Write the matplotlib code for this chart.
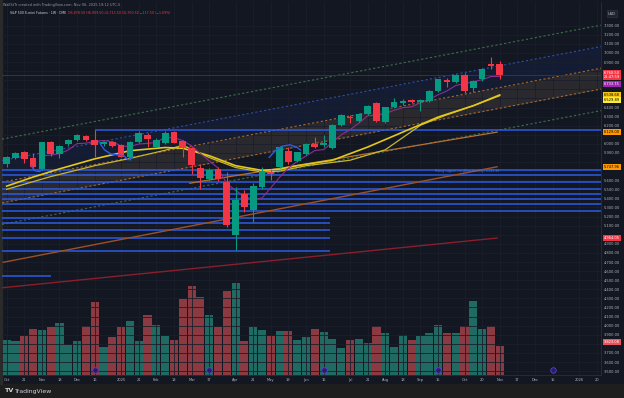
import numpy as np
import pandas as pd
import matplotlib
matplotlib.use('Agg')
import matplotlib.pyplot as plt
import matplotlib.transforms as mtransforms
from matplotlib.patches import Rectangle

# S&P 500 E-mini futures, weekly bars, first bar = week of 2024-10-07
week0 = pd.Timestamp('2024-10-07')
opens = [5784, 5846, 5906, 5846, 5725, 6019, 5887, 5994, 6041, 6088,
         6041, 5994, 6019, 5986, 5857, 6016, 6096, 5967, 6005, 6126,
         6030, 5956, 5740, 5612, 5729, 5582, 4995, 5443, 5270, 5527,
         5692, 5747, 5923, 5810, 5887, 5997, 5983, 5950, 6210, 6298,
         6254, 6327, 6445, 6243, 6401, 6452, 6482, 6460, 6471, 6577,
         6702, 6683, 6760, 6617, 6710, 6875, 6878.5]
highs = [5865, 5914, 5920, 5901, 6022, 6033, 5983, 6052, 6104, 6096,
         6151, 6033, 6030, 5994, 6030, 6144, 6115, 6060, 6144, 6137,
         6041, 5967, 5777, 5740, 5747, 5692, 5527, 5490, 5567, 5747,
         5729, 5975, 5961, 5912, 6005, 6071, 6096, 6217, 6327, 6320,
         6342, 6423, 6463, 6408, 6507, 6489, 6496, 6496, 6592, 6716,
         6721, 6768, 6776, 6702, 6831, 6952, 6909.5]
lows = [5741, 5832, 5791, 5718, 5718, 5868, 5840, 5975, 6033, 6033,
        5857, 5975, 5967, 5851, 5821, 6005, 5967, 5961, 5997, 6005,
        5857, 5674, 5498, 5593, 5593, 5086, 4830, 5251, 5141, 5509,
        5600, 5740, 5784, 5799, 5876, 5950, 5961, 5939, 6199, 6225,
        6239, 6316, 6239, 6232, 6390, 6427, 6445, 6360, 6460, 6570,
        6628, 6666, 6555, 6573, 6694, 6820, 6713.5]
closes = [5851, 5901, 5835, 5744, 6019, 5884, 5975, 6044, 6093, 6041,
          5989, 6019, 5978, 5857, 6016, 6121, 6055, 6041, 6121, 6008,
          5956, 5766, 5626, 5711, 5612, 5105, 5380, 5300, 5538, 5700,
          5667, 5961, 5802, 5906, 5997, 5967, 6011, 6210, 6313, 6283,
          6327, 6412, 6247, 6401, 6463, 6471, 6456, 6482, 6581, 6710,
          6683, 6754, 6581, 6691, 6820, 6859, 6760.5]
volume_m = [6.0, 5.7, 6.6, 7.8, 7.7, 8.2, 8.8, 5.1, 5.7, 8.3,
            12.4, 4.7, 6.4, 8.1, 9.2, 5.7, 10.2, 8.5, 6.6, 6.0,
            12.9, 15.2, 13.3, 10.2, 8.2, 14.2, 15.6, 5.7, 8.2, 7.7,
            6.6, 7.4, 7.5, 5.9, 6.5, 7.8, 7.3, 6.2, 4.6, 6.0,
            6.2, 5.4, 8.3, 7.1, 4.8, 6.8, 5.9, 6.6, 7.2, 8.5,
            7.2, 7.1, 8.3, 12.6, 7.8, 8.3, 5.0]

# moving averages (week index, price)
ma1_idx = [0, 3, 6, 10, 14, 18, 20, 23, 26, 29, 31, 33, 37, 41, 45, 49, 53, 56]
ma1_val = [5535, 5635, 5725, 5835, 5925, 5960, 5952, 5870, 5760, 5708,
           5722, 5760, 5820, 5965, 6130, 6295, 6420, 6538.68]
ma2_idx = [0, 5, 10, 14, 18, 20, 23, 26, 29, 31, 34, 39, 43, 47, 50, 53, 56]
ma2_val = [5500, 5640, 5760, 5840, 5930, 5985, 5850, 5740, 5690, 5700,
           5760, 5820, 5935, 6205, 6320, 6420, 6529.89]

# horizontal levels (price)
levels_full = [5718, 5663, 5585, 5498, 5448, 5395, 5340, 5258]
levels_short = [5185, 5134, 5050, 4962, 4818]
dec_high = 6150
old_level = 4550

# trendlines (week index, price)
red_tl = ([-0.5, 55.7], [4417, 4964.05])
orange_low_tl = ([-0.4, 55.7], [4697, 5747.96])
orange_up_tl = ([20.8, 55.7], [5567, 6129.00])

# regression channel at left / right edge
chan_x = [-0.53, 67.5]
chan_top = [6052, 7306]
chan_up = [5817, 7071]
chan_mid = [5579, 6832]
chan_lo = [5351, 6604]
chan_bot = [5114, 6366]

# hand drawn arcs (week index, price)
arc1 = ([2.8, 3.2, 3.7, 4.2], [5755, 5705, 5695, 5725])
arc2 = ([10.6, 11.1, 11.8, 12.6, 13.3, 13.8, 14.3], [6005, 5935, 5890, 5878, 5870, 5825, 5850])
arc3 = ([29.8, 30.5, 31.3, 32.2, 33.0, 33.4], [5850, 5925, 5975, 5990, 5960, 5930])

roll_dates = ['2024-12-16', '2025-03-17', '2025-06-16', '2025-09-15', '2025-12-15']

tick_dates = ['2024-10-07', '2024-10-21', '2024-11-04', '2024-11-18', '2024-12-02',
              '2024-12-16', '2025-01-06', '2025-01-20', '2025-02-03', '2025-02-17',
              '2025-03-03', '2025-03-17', '2025-04-07', '2025-04-21', '2025-05-05',
              '2025-05-19', '2025-06-02', '2025-06-16', '2025-07-07', '2025-07-21',
              '2025-08-04', '2025-08-18', '2025-09-01', '2025-09-15', '2025-10-06',
              '2025-10-20', '2025-11-03', '2025-11-17', '2025-12-01', '2025-12-15',
              '2026-01-05', '2026-01-19']
tick_labels = ['Oct', '21', 'Nov', '18', 'Dec', '16', '2025', '21', 'Feb', '18',
               'Mar', '17', 'Apr', '21', 'May', '19', 'Jun', '16', 'Jul', '21',
               'Aug', '18', 'Sep', '15', 'Oct', '20', 'Nov', '17', 'Dec', '15',
               '2026', '20']

# axis value labels (price, text, box colour, text colour, shift in px)
price_tags = [(6760.5, '6,760.50\n21:47:59', '#f23645', 'white', 0),
              (6733.75, '6,733.75', '#9c27b0', 'white', -6.8),
              (6538.68, '6,538.68', '#f9c80e', 'black', 0),
              (6529.89, '6,529.89', '#ffeb3b', 'black', -4.5),
              (6129.00, '6,129.00', '#ff9800', 'black', 0),
              (5747.96, '5,747.96', '#ff9800', 'black', 0),
              (4964.05, '4,964.05', '#f23645', 'white', 0),
              (3823.08, '3,823.08', '#e5535f', 'white', 0)]

BG = '#131722'
UP, DN = '#089981', '#f23645'
VUP, VDN = '#1f6b63', '#8a3a40'
TXT = '#b2b5be'
FS = 2.6

W, H = 624, 398
n = len(opens)
idx = np.arange(n)
o = np.array(opens); c = np.array(closes)
hi = np.array(highs); lo = np.array(lows)
up = c >= o
tick_idx = [(pd.Timestamp(d) - week0).days // 7 for d in tick_dates]
roll_idx = [(pd.Timestamp(d) - week0).days // 7 for d in roll_dates]

fig = plt.figure(figsize=(W / 100, H / 100), dpi=100, facecolor=BG)
fig.patches.append(Rectangle((0, 0), 1, 14 / H, transform=fig.transFigure,
                             color='#1e1e1e', zorder=0))
fig.patches.append(Rectangle((0, 14 / H), 2 / W, 1, transform=fig.transFigure,
                             color='#2a2a2a', zorder=0))

ax = fig.add_axes([2 / W, 23 / H, 599 / W, 373 / H])
ax2 = ax.twinx()
ax.set_zorder(2); ax2.set_zorder(1)
ax.patch.set_visible(False)

# volume overlay
ax2.bar(idx, volume_m, width=0.92, color=np.where(up, VUP, VDN), zorder=1)
ax2.set_ylim(0, 63.4)
ax2.set_yticks([])
for s in ax2.spines.values():
    s.set_visible(False)

xmin, xmax = -0.53, 67.5
ax.set_xlim(xmin, xmax)
ax.set_ylim(3457, 7561)

# grid and axis labels
ax.set_xticks(tick_idx)
ax.set_xticklabels(tick_labels)
yt = np.arange(3500, 7400, 100)
ax.set_yticks(yt)
shown = []
for v in yt:
    near = any(abs(v - (p + s * 11.0)) < 60 for p, _, _, _, s in price_tags)
    shown.append('' if near else f'{v:,.2f}')
ax.set_yticklabels(shown)
ax.yaxis.tick_right()
ax.grid(color='#1b1f2c', lw=0.6, zorder=0)
ax.tick_params(axis='both', length=0, labelsize=FS, colors=TXT)
ax.tick_params(axis='x', pad=2.0)
ax.tick_params(axis='y', pad=2.2)
for k, s in ax.spines.items():
    s.set_visible(k in ('right', 'bottom'))
    s.set_color('#2a2e39'); s.set_linewidth(0.6)

# regression channel
ax.fill_between(chan_x, chan_up, chan_mid, color='#2962ff', alpha=0.08, lw=0, zorder=1)
ax.fill_between(chan_x, chan_mid, chan_lo, color='#b09a78', alpha=0.14, lw=0, zorder=1)
for ys, col in [(chan_top, '#3e6e48'), (chan_up, '#2b4ea8'), (chan_mid, '#a8682a'),
                (chan_lo, '#a8682a'), (chan_bot, '#3e6e48')]:
    ax.plot(chan_x, ys, color=col, lw=0.8, ls=(0, (2, 2)), zorder=2)

# horizontal levels
ax.hlines(levels_full, xmin, xmax, colors='#2d5be3', lw=1.1, zorder=3)
ax.hlines(levels_short, xmin, 36.7, colors='#2d5be3', lw=1.1, zorder=3)
ax.hlines(dec_high, 10, xmax, colors='#2d5be3', lw=1.1, zorder=3)
ax.hlines(old_level, xmin, 5.0, colors='#2d5be3', lw=1.1, zorder=3)
ax.axhline(c[-1], color='#6e1f2a', lw=0.7, zorder=3)

# trendlines
ax.plot(*red_tl, color='#8b1e2b', lw=1.0, zorder=3)
ax.plot(*orange_low_tl, color='#9c5128', lw=1.0, zorder=3)
ax.plot(*orange_up_tl, color='#b8702c', lw=0.9, zorder=3)
ax.text(52.3, 5700, 'Rising support trendline (weekly) 5,747.96', fontsize=2.2,
        color='#4f72d8', ha='center', va='center', zorder=4)

# moving averages
ax.plot(ma2_idx, ma2_val, color='#c9b62c', lw=0.9, zorder=4)
ax.plot(ma1_idx, ma1_val, color='#e3c81a', lw=1.2, zorder=4)
sma5 = pd.Series(closes).rolling(5).mean()
ax.plot(idx, sma5, color='#8a2f94', lw=0.8, zorder=4)

# candles
cols = np.where(up, UP, DN)
ax.vlines(idx, lo, hi, colors=cols, lw=0.8, zorder=5)
body = np.maximum(np.abs(c - o), 8)
ax.bar(idx, body, bottom=np.minimum(o, c), width=0.76, color=cols, lw=0, zorder=6)

# drawn arcs
for a in (arc1, arc2, arc3):
    ax.plot(*a, color='#2d5be3', lw=1.0, zorder=7, solid_capstyle='round')

# contract roll markers
trans = mtransforms.blended_transform_factory(ax.transData, ax.transAxes)
ax.scatter(roll_idx, [0.014] * len(roll_idx), s=16, color='#2a1c68',
           edgecolors='#5a40d0', linewidths=0.6, transform=trans, zorder=8, clip_on=False)

# price tags on the axis
ytrans = mtransforms.blended_transform_factory(ax.transAxes, ax.transData)
for p, t, bc, tc, s in price_tags:
    ax.annotate(t, xy=(1, p), xycoords=ytrans, xytext=(2.2, s * 0.72),
                textcoords='offset points', fontsize=FS, color=tc, ha='left',
                va='center', linespacing=1.1, annotation_clip=False,
                bbox=dict(boxstyle='square,pad=0.25', fc=bc, ec='none'))
ax.annotate('USD', xy=(1, 1), xycoords='axes fraction', xytext=(5, -8.5),
            textcoords='offset points', fontsize=FS, color='#d1d4dc', ha='left',
            va='center', annotation_clip=False,
            bbox=dict(boxstyle='square,pad=0.4', fc='#1e222d', ec='#363a45', lw=0.4))

# header
fig.text(3 / W, 1 - 5 / H, 'WallStTr created with TradingView.com, Nov 06, 2025 19:12 UTC-5',
         fontsize=2.5, color='#9598a1', va='center')
t1 = fig.text(10 / W, 1 - 13 / H, 'S&P 500 E-mini Futures · 1W · CME', fontsize=2.3,
              color='#d1d4dc', va='center')
fig.canvas.draw()
bb = t1.get_window_extent()
fig.text((bb.x1 + 2) / W, 1 - 13 / H,
         'O6,878.50 H6,909.50 L6,713.50 C6,760.50 −117.50 (−1.69%)',
         fontsize=2.3, color='#f23645', va='center')

# footer
fig.text(5 / W, 7 / H, 'TV', fontsize=4.6, fontweight='bold', color='#d1d4dc', va='center')
fig.text(15 / W, 7 / H, 'TradingView', fontsize=4.4, color='#d1d4dc', va='center')

fig.savefig('out.png', dpi=100, facecolor=fig.get_facecolor())
